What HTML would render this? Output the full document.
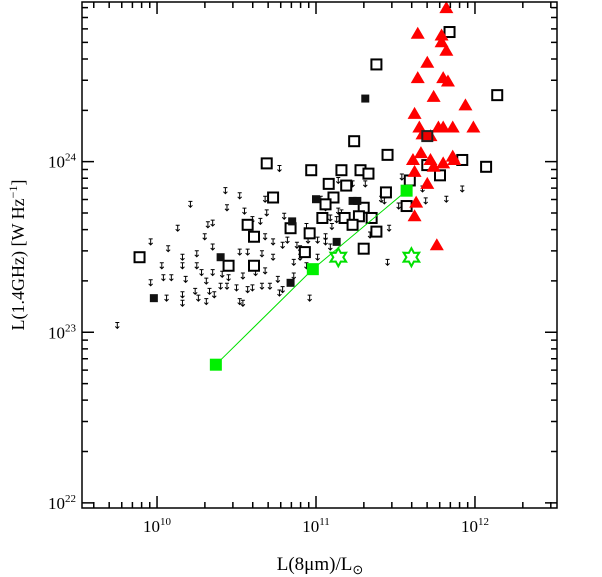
<!DOCTYPE html>
<html><head><meta charset="utf-8"><style>
html,body{margin:0;padding:0;background:#fff;width:602px;height:577px;overflow:hidden}
svg{display:block}
text{font-family:"Liberation Serif",serif;fill:#000}
</style></head><body>
<svg id="chart" width="602" height="577" viewBox="0 0 602 577" xmlns="http://www.w3.org/2000/svg">
<g id="marks"></g>
<g id="axes"></g>
<text x="320" y="570" text-anchor="middle" font-size="19">L(8μm)/L<tspan font-size="13" dy="4">⊙</tspan></text>
<text transform="translate(24,255) rotate(-90)" text-anchor="middle" font-size="18">L(1.4GHz) [W Hz<tspan font-size="12" dy="-7">−1</tspan><tspan dy="7">]</tspan></text>
</svg>
<script>
// Data (log10 values)
const triX=[11.82,11.64,11.79,11.79,11.82,11.70,11.64,11.80,11.83,11.74,11.94,11.62,11.65,11.77,11.80,11.86,11.99,11.67,11.72,11.61,11.66,11.72,11.74,11.80,11.86,11.87,11.62,11.70,11.63,11.62,11.76];
const triY=[24.90,24.75,24.74,24.70,24.65,24.58,24.49,24.49,24.47,24.38,24.33,24.28,24.20,24.20,24.20,24.20,24.20,24.16,24.15,24.01,24.05,24.01,23.97,23.99,24.03,24.01,23.94,23.87,23.76,23.68,23.51];
const openX=[11.84,11.38,12.14,11.24,11.45,11.92,11.70,12.07,11.78,10.97,11.16,11.28,11.33,11.08,11.19,11.59,11.44,11.11,11.06,11.57,11.30,11.27,11.35,11.04,11.18,11.23,11.38,10.96,11.30,10.93,10.69,10.73,10.57,10.84,10.61,9.89,10.45,10.61];
const openY=[24.76,24.57,24.39,24.12,24.04,24.01,23.98,23.97,23.92,23.95,23.95,23.95,23.93,23.87,23.86,23.89,23.82,23.79,23.75,23.74,23.73,23.68,23.67,23.67,23.67,23.63,23.59,23.58,23.49,23.47,23.99,23.79,23.63,23.61,23.56,23.44,23.39,23.39];
const fillX=[11.00,10.85,10.40,10.84,9.98,11.31,11.23,11.26,11.13];
const fillY=[23.78,23.65,23.44,23.29,23.20,24.37,23.77,23.77,23.53];
const redSqX=[11.70];
const redSqY=[24.15];
const limX=[10.77,10.43,10.52,10.68,10.21,10.44,10.55,10.69,10.80,10.60,10.65,10.32,10.35,10.13,10.30,10.68,10.79,10.73,9.96,10.07,10.35,10.52,10.57,10.66,10.73,10.25,10.16,10.03,10.16,10.25,10.28,10.35,10.41,10.45,10.54,10.62,10.68,10.04,10.09,10.18,10.31,10.24,10.33,10.40,10.44,10.50,10.57,10.60,10.66,10.71,10.76,10.79,9.96,10.06,10.16,10.26,10.31,10.36,10.52,10.16,10.54,10.96,10.77,10.86,10.90,10.86,10.90,10.95,11.01,11.06,11.09,10.88,10.82,11.03,11.06,11.14,11.13,11.10,10.94,10.94,11.54,11.67,11.92,11.69,11.82,11.52,11.14,11.23,11.31,11.45,11.46,11.41,11.43,11.16,11.09,11.34,11.31,11.01,11.06,9.75];
const limY=[23.96,23.83,23.80,23.78,23.75,23.73,23.71,23.70,23.68,23.66,23.65,23.63,23.64,23.61,23.56,23.56,23.51,23.53,23.53,23.49,23.50,23.47,23.47,23.46,23.44,23.46,23.44,23.39,23.39,23.39,23.35,23.35,23.34,23.32,23.33,23.35,23.36,23.32,23.32,23.31,23.30,23.24,23.24,23.27,23.27,23.26,23.25,23.26,23.27,23.27,23.31,23.25,23.29,23.20,23.22,23.20,23.18,23.22,23.18,23.17,23.17,23.20,23.23,23.33,23.44,23.41,23.49,23.54,23.54,23.53,23.50,23.51,23.54,23.78,23.73,23.71,23.66,23.62,23.62,23.39,23.91,23.84,23.84,23.77,23.78,23.74,23.89,23.87,23.87,23.41,23.61,23.78,23.77,23.70,23.67,23.57,23.49,23.44,23.56,23.04];
const lineX=[10.37,10.98,11.57];
const lineY=[22.81,23.37,23.83];
const starX=[11.14,11.60];
const starY=[23.44,23.44];
const xTickExp=[10,11,12];
const yTickExp=[22,23,24];

const L=82,R=557,T=2,B=508, XMIN=9.528,XMAX=12.516,YMIN=21.97,YMAX=24.936;
const sx=v=>L+(v-XMIN)/(XMAX-XMIN)*(R-L);
const sy=v=>B-(v-YMIN)/(YMAX-YMIN)*(B-T);
const NS="http://www.w3.org/2000/svg";
const marks=document.getElementById('marks'), axes=document.getElementById('axes');
function mk(tag,attrs,parent){const e=document.createElementNS(NS,tag);for(const k in attrs)e.setAttribute(k,attrs[k]);parent.appendChild(e);return e;}

// upper limits
limX.forEach((v,i)=>{const x=sx(v),y=sy(limY[i]);
 const g=mk('path',{d:`M${x-2},${y-3}h4M${x},${y-3}v6M${x-2},${y+1}l2,2l2,-2`,stroke:'#000','stroke-width':1,fill:'none'},marks);
 
 });
// open squares
openX.forEach((v,i)=>{const x=sx(v),y=sy(openY[i]);
 const e=mk('rect',{x:x-5,y:y-5,width:10,height:10,fill:'#fff',stroke:'#000','stroke-width':2},marks);
 
 });
// filled squares
fillX.forEach((v,i)=>{const x=sx(v),y=sy(fillY[i]);
 const e=mk('rect',{x:x-4,y:y-4,width:8,height:8,fill:'#111'},marks);
 
 });
// triangles
triX.forEach((v,i)=>{const x=sx(v),y=sy(triY[i]);
 const e=mk('polygon',{points:`${x},${y-7} ${x-7},${y+5} ${x+7},${y+5}`,fill:'#f00'},marks);
 
 });
redSqX.forEach((v,i)=>{const x=sx(v),y=sy(redSqY[i]);
 const e=mk('rect',{x:x-5,y:y-5,width:10,height:10,fill:'#e00',stroke:'#222','stroke-width':2},marks);
 
 });
// green line + squares
const pl=mk('polyline',{points:lineX.map((v,i)=>sx(v)+','+sy(lineY[i])).join(' '),fill:'none',stroke:'#00e000','stroke-width':1},marks);


lineX.forEach((v,i)=>{const x=sx(v),y=sy(lineY[i]);
 const e=mk('rect',{x:x-6,y:y-6,width:12,height:12,fill:'#00f000'},marks);
 
 });
// stars
starX.forEach((v,i)=>{const x=sx(v),y=sy(starY[i]);let p=[];
 for(let k=0;k<12;k++){const r=k%2?5:9,a=Math.PI/6*k-Math.PI/2;p.push((x+r*Math.cos(a)).toFixed(1)+','+(y+r*Math.sin(a)).toFixed(1));}
 const e=mk('polygon',{points:p.join(' '),fill:'#fff',stroke:'#00e000','stroke-width':2},marks);
 
 });

// frame
const fr=mk('rect',{x:L,y:T,width:R-L,height:B-T,fill:'none',stroke:'#000','stroke-width':1.5},axes);


let d='';
for(let e=9;e<=12;e++)for(let m=1;m<10;m++){const v=e+Math.log10(m);if(v<XMIN||v>XMAX)continue;const x=sx(v),len=m==1?12:6;d+=`M${x},${B}v${-len}M${x},${T}v${len}`;}
for(let e=21;e<=24;e++)for(let m=1;m<10;m++){const v=e+Math.log10(m);if(v<YMIN||v>YMAX)continue;const y=sy(v),len=m==1?12:6;d+=`M${L},${y}h${len}M${R},${y}h${-len}`;}
const tk=mk('path',{d:d,stroke:'#000','stroke-width':1.5,fill:'none'},axes);


xTickExp.forEach(e=>{const t=mk('text',{x:sx(e),y:532,'text-anchor':'middle','font-size':17},axes);
 t.innerHTML='10<tspan font-size="11" dy="-7">'+e+'</tspan>';
 
 });
yTickExp.forEach(e=>{const t=mk('text',{x:76,y:sy(e)+6,'text-anchor':'end','font-size':17},axes);
 t.innerHTML='10<tspan font-size="11" dy="-7">'+e+'</tspan>';
 
 });
</script>
</body></html>
